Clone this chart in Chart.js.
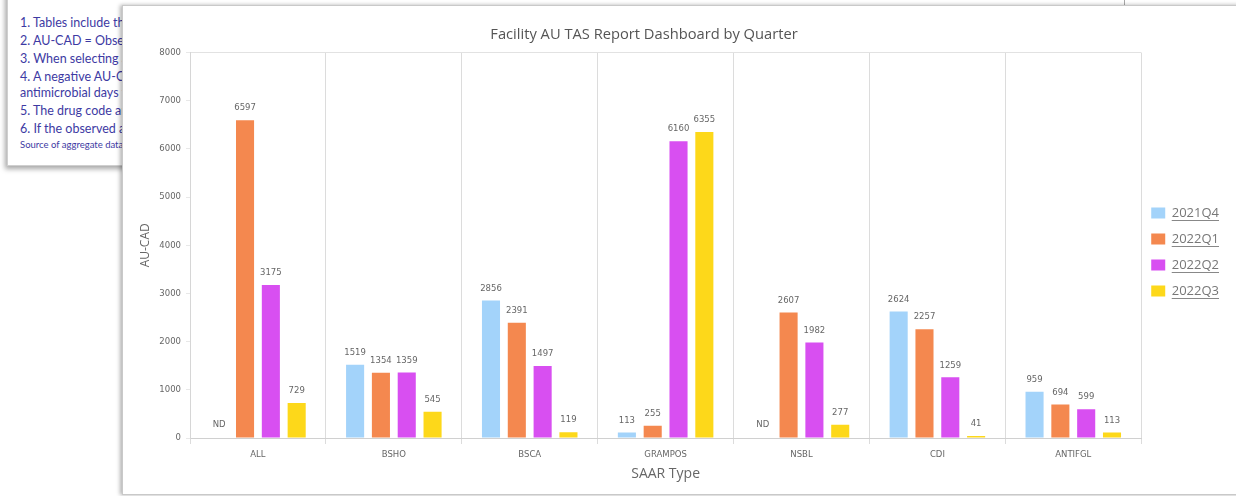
<!DOCTYPE html>
<html><head><meta charset="utf-8">
<script src="https://cdn.jsdelivr.net/npm/chart.js@4.4.1/dist/chart.umd.min.js"></script>
<style>
html,body{margin:0;padding:0;width:1236px;height:496px;overflow:hidden;background:#fff;}
#notes{position:absolute;left:7px;top:-12px;width:1140px;height:176px;background:#fff;box-shadow:-2px 3px 5px rgba(0,0,0,0.35);border:1px solid #cfcfcf;font-family:Lato,"Open Sans",sans-serif;color:#3d3aa3;}
.n{position:absolute;left:12px;font-size:12.5px;white-space:nowrap;line-height:14px;}
.s{font-size:9.5px;}
#corner{position:absolute;left:1124px;top:-20px;width:200px;height:24px;border:1px solid #a8a8a8;background:#fff;}
#panel{position:absolute;left:122px;top:5px;width:1200px;height:488px;background:#fff;border:1px solid #c9c9c9;box-shadow:-2px 0 4px rgba(0,0,0,0.3);}
#wrap{position:absolute;left:50px;top:5px;width:1186px;height:488px;}
</style>
</head><body>
<div id="notes">
<div class="n" style="top:27px">1. Tables include the</div>
<div class="n" style="top:45px">2. AU-CAD = Observed</div>
<div class="n" style="top:63px">3. When selecting a</div>
<div class="n" style="top:81px">4. A negative AU-CAD</div>
<div class="n" style="top:97px">antimicrobial days th</div>
<div class="n" style="top:115px">5. The drug code and</div>
<div class="n" style="top:133px">6. If the observed an</div>
<div class="n s" style="top:149px">Source of aggregate data</div>
</div>
<div id="corner"></div>
<div id="panel"></div>
<div id="wrap"><canvas id="c" width="1186" height="488"></canvas></div>
<script>
const categories = ['ALL','BSHO','BSCA','GRAMPOS','NSBL','CDI','ANTIFGL'];
const seriesNames = ['2021Q4','2022Q1','2022Q2','2022Q3'];
const q2021Q4 = [null, 1519, 2856, 113, null, 2624, 959];
const q2022Q1 = [6597, 1354, 2391, 255, 2607, 2257, 694];
const q2022Q2 = [3175, 1359, 1497, 6160, 1982, 1259, 599];
const q2022Q3 = [729, 545, 119, 6355, 277, 41, 113];
const yTicks = [0,1000,2000,3000,4000,5000,6000,7000,8000];
const colors = ['#a3d3fa','#f4884f','#d84ff1','#fdd81a'];

const small = {family:'"DejaVu Sans", sans-serif', size:8.5};
const LEGEND_SHIFT = 3;

const labelPlugin = {
  id:'barLabels',
  afterLayout(chart){
    const lg = chart.legend;
    if (lg) { lg.left -= LEGEND_SHIFT; lg.right -= LEGEND_SHIFT; }
  },
  afterDatasetsDraw(chart){
    const ctx = chart.ctx, y0 = chart.scales.y.getPixelForValue(0);
    ctx.save();
    ctx.font = '8.5px "DejaVu Sans", sans-serif';
    ctx.fillStyle = '#666';
    ctx.textAlign = 'center';
    ctx.textBaseline = 'middle';
    chart.data.datasets.forEach((ds,i)=>{
      const meta = chart.getDatasetMeta(i);
      meta.data.forEach((el,j)=>{
        const v = ds.data[j];
        if (v === null || v === undefined) {
          ctx.fillText('ND', el.x, y0 - 13);
        } else {
          ctx.fillText(String(v), el.x, el.y - 12);
        }
      });
    });
    ctx.restore();
  },
  afterDraw(chart){
    const lg = chart.legend; if(!lg || !lg.legendHitBoxes) return;
    const ctx = chart.ctx;
    ctx.save();
    ctx.strokeStyle = '#888'; ctx.lineWidth = 1;
    ctx.font = '13px "Open Sans", sans-serif';
    const baseX = lg.left + 13 + 14 + 6.5;
    lg.legendHitBoxes.forEach((hb,i)=>{
      const w = ctx.measureText(lg.legendItems[i].text).width;
      const y = Math.round(hb.top + hb.height/2 + 7) + 0.5;
      ctx.beginPath(); ctx.moveTo(baseX,y); ctx.lineTo(baseX+w,y); ctx.stroke();
    });
    ctx.restore();
  }
};

new Chart(document.getElementById('c'), {
  type:'bar',
  data:{
    labels:categories,
    datasets:[q2021Q4,q2022Q1,q2022Q2,q2022Q3].map((d,i)=>({
      label:seriesNames[i], data:d, backgroundColor:colors[i],
      categoryPercentage:0.76, barPercentage:0.70
    }))
  },
  options:{
    responsive:false, animation:false,
    layout:{padding:{left:6,right:4,top:0,bottom:8}},
    plugins:{
      title:{display:true,text:'Facility AU TAS Report Dashboard by Quarter',color:'#555',
        font:{family:'"Open Sans", sans-serif',size:14.7,weight:'normal'},padding:{top:21,bottom:9}},
      legend:{position:'right',
        title:{display:true,text:'',font:{size:10},padding:{top:0,bottom:2}},
        labels:{boxWidth:14,boxHeight:11,padding:13,color:'#777',
          font:{family:'"Open Sans", sans-serif',size:13}}},
      tooltip:{enabled:false}
    },
    scales:{
      x:{
        grid:{color:'#dcdcdc',tickColor:'#dcdcdc',tickLength:6,offset:true},
        border:{color:'#d0d0d0'},
        ticks:{color:'#666',font:small,padding:6},
        title:{display:true,text:'SAAR Type',color:'#666',font:{family:'"Open Sans", sans-serif',size:14},padding:{top:-1,bottom:3}}
      },
      y:{
        min:0,max:8000,
        afterBuildTicks(s){ s.ticks = yTicks.map(v=>({value:v})); },
        afterFit(s){ s.width = 134; },
        grid:{color:c=>c.tick && c.tick.value===8000?'#e2e2e2':'rgba(0,0,0,0)',tickColor:'#e8e8e8',tickLength:4},
        border:{color:'#d6d6d6'},
        ticks:{color:'#666',font:small,padding:5,callback:v=>String(v)},
        title:{display:true,text:'AU-CAD',color:'#666',font:{family:'"Open Sans", sans-serif',size:12},padding:{top:82,bottom:7}}
      }
    }
  },
  plugins:[labelPlugin]
});
</script>
</body></html>
